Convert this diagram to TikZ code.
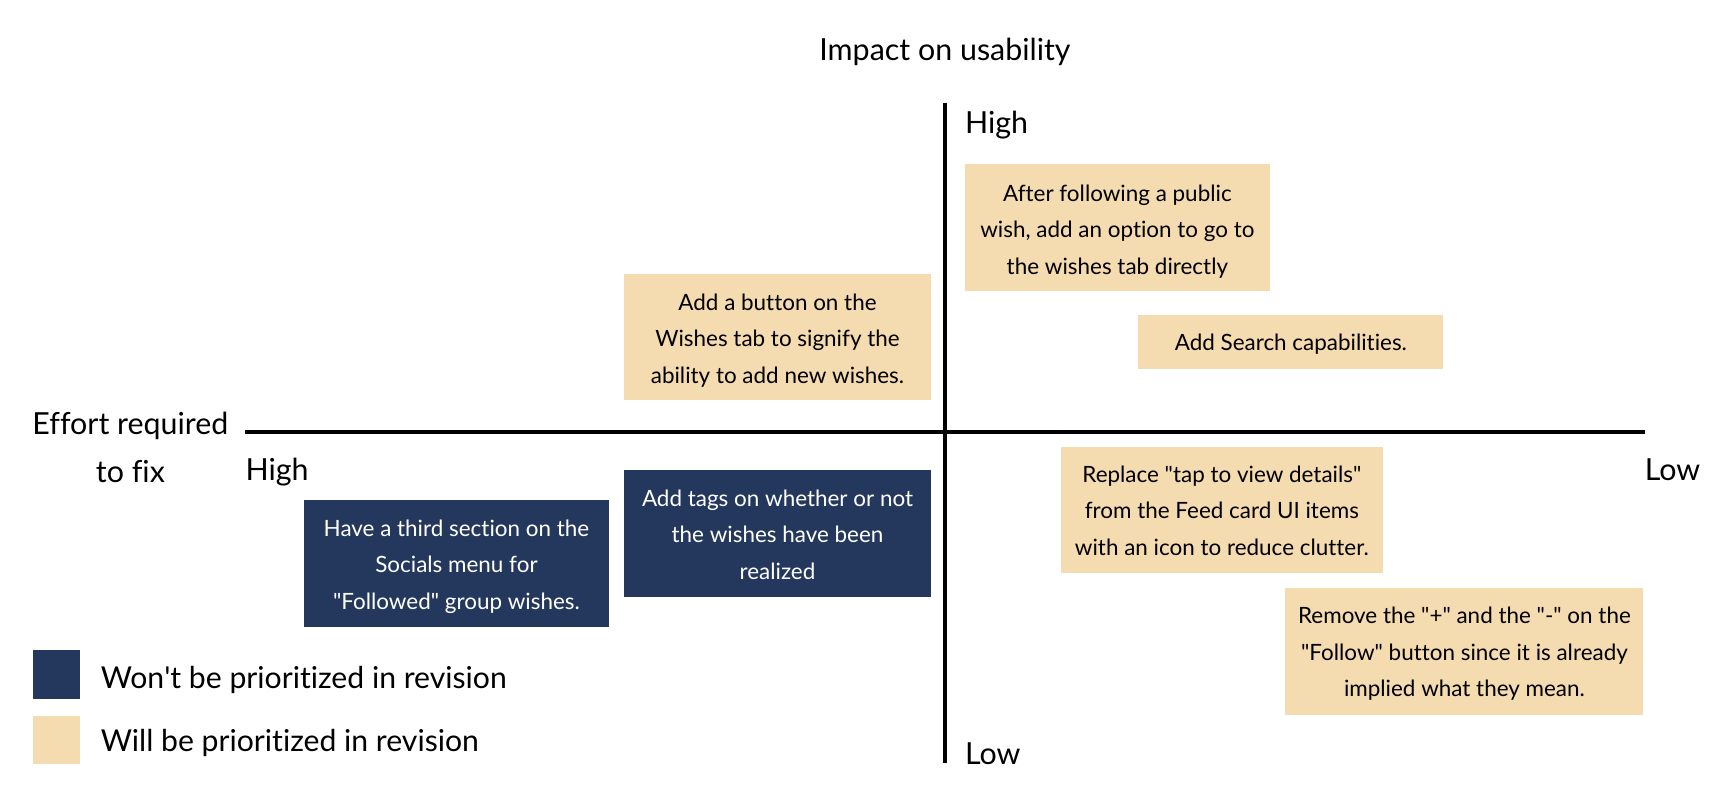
\documentclass[tikz,border=0pt]{standalone}
\usepackage{fontspec}
\setmainfont{Lato}[Ligatures=NoCommon]
\definecolor{navy}{RGB}{36,55,92}
\definecolor{tan}{RGB}{245,219,176}
\newcommand{\dq}{\textquotedbl}
\begin{document}
\begin{tikzpicture}[x=1pt,y=-1pt,
  card/.style={minimum width=#1, inner sep=0pt},
  later/.style={card=#1, fill=navy},
  soon/.style={card=#1, fill=tan},
  cardtext/.style={inner sep=0pt, align=center, yshift=-#1,
    font=\fontsize{20.3}{33}\selectfont},
  lighttext/.style={cardtext=#1, text=white},
  darktext/.style={cardtext=#1, text=black},
  axislabel/.style={font=\fontsize{27.5}{30}\selectfont, inner sep=0pt},
  legendtext/.style={font=\fontsize{27.3}{30}\selectfont, inner sep=0pt, anchor=west},
  axisline/.style={line width=3pt}]
\useasboundingbox (0,0) rectangle (1568,734);

% axes
\coordinate (vtop) at (855,93);
\coordinate (vbot) at (855,690);
\coordinate (hleft) at (222,391);
\coordinate (hright) at (1488,391);
\draw[axisline] (vtop) -- (vbot);
\draw[axisline] (hleft) -- (hright);

% axis titles and ends
\node[axislabel] (ytitle) at (855,47) {Impact on usability};
\node[axislabel, anchor=west] (yhigh) at (873,113) {High};
\node[axislabel, anchor=west] (ylow) at (873,682) {Low};
\node[axislabel, align=center, font=\fontsize{27.5}{43}\selectfont] (xtitle) at (118,405) {Effort required\\to fix};
\node[axislabel, anchor=west] (xhigh) at (222,427) {High};
\node[axislabel, anchor=west] (xlow) at (1488,425) {Low};

% cards
\node[soon=276pt, minimum height=115pt,
  label={[darktext=4pt]center:{After following a public\\wish, add an option to go to\\the wishes tab directly}}]
  (follow) at (1011,205.5) {};
\node[soon=276pt, minimum height=49pt,
  label={[darktext=2pt]center:{Add Search capabilities.}}]
  (search) at (1168,309.5) {};
\node[soon=277pt, minimum height=114pt,
  label={[darktext=3pt]center:{Add a button on the\\Wishes tab to signify the\\ability to add new wishes.}}]
  (addbtn) at (703.5,305) {};
\node[later=277pt, minimum height=115pt,
  label={[lighttext=1pt]center:{Add tags on whether or not\\the wishes have been\\realized}}]
  (tags) at (703.5,482.5) {};
\node[later=276pt, minimum height=115pt,
  label={[lighttext=3pt]center:{Have a third section on the\\Socials menu for\\\dq Followed\dq{} group wishes.}}]
  (socials) at (413,509.5) {};
\node[soon=291pt, minimum height=114pt,
  label={[darktext=1pt]center:{Replace \dq tap to view details\dq\\from the Feed card UI items\\with an icon to reduce clutter.}}]
  (replace) at (1105.5,461) {};
\node[soon=324pt, minimum height=115pt,
  label={[darktext=2pt]center:{Remove the \dq+\dq{} and the \dq-\dq{} on the\\\dq Follow\dq{} button since it is already\\implied what they mean.}}]
  (remove) at (1325,589.5) {};

% legend
\node[fill=navy, minimum width=42pt, minimum height=44pt, inner sep=0pt] (keylater) at (51,610) {};
\node[fill=tan, minimum width=42pt, minimum height=43pt, inner sep=0pt] (keysoon) at (51,669.5) {};
\node[legendtext] (keylatertext) at (91,615) {Won\textquotesingle t be prioritized in revision};
\node[legendtext] (keysoontext) at (91,672) {Will be prioritized in revision};
\end{tikzpicture}
\end{document}
